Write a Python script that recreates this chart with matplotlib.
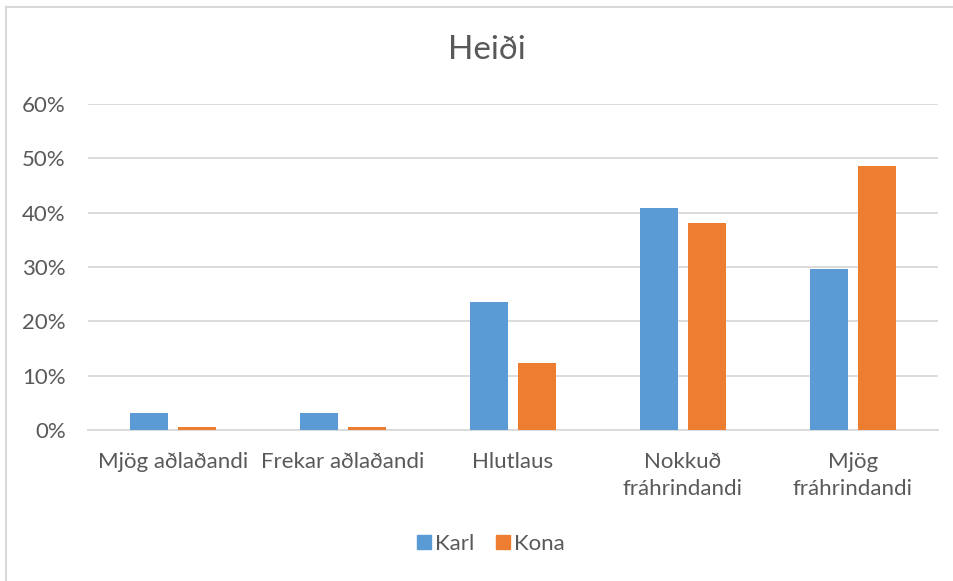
import numpy as np
import matplotlib
matplotlib.use("Agg")
import matplotlib.pyplot as plt
from matplotlib.lines import Line2D
from matplotlib.ticker import PercentFormatter

# Gögn lesin af myndinni
categories = ["Mjög aðlaðandi", "Frekar aðlaðandi", "Hlutlaus",
              "Nokkuð\nfráhrindandi", "Mjög\nfráhrindandi"]
karl = [0.031, 0.031, 0.235, 0.408, 0.296]
kona = [0.006, 0.006, 0.123, 0.381, 0.485]
series_names = ["Karl", "Kona"]
yticks = [0.0, 0.1, 0.2, 0.3, 0.4, 0.5, 0.6]

BLUE = "#5B9BD5"
ORANGE = "#ED7D31"
TEXT = "#595959"
GRID = "#D9D9D9"

plt.rcParams["font.family"] = ["Lato", "DejaVu Sans"]

W, H = 954, 581
fig = plt.figure(figsize=(W / 100, H / 100), dpi=100)
ax = fig.add_axes([88 / W, 1 - 430 / H, (938 - 88) / W, (430 - 104) / H])

x = np.arange(len(categories))
bw = 0.224
off = 0.143
ax.bar(x - off, karl, bw, color=BLUE, label=series_names[0], zorder=3)
ax.bar(x + off, kona, bw, color=ORANGE, label=series_names[1], zorder=3)

ax.set_xlim(-0.5, len(categories) - 0.5)
ax.set_ylim(0, 0.6)
ax.set_yticks(yticks)
ax.yaxis.set_major_formatter(PercentFormatter(1.0, decimals=0))
ax.set_xticks(x)
ax.set_xticklabels(categories, linespacing=1.4)
ax.tick_params(axis="both", length=0, labelsize=16, colors=TEXT)
ax.tick_params(axis="y", pad=16)
ax.tick_params(axis="x", pad=16)
ax.grid(axis="y", color=GRID, linewidth=1.3, zorder=0)
for s in ["top", "right", "left"]:
    ax.spines[s].set_visible(False)
ax.spines["bottom"].set_color(GRID)
ax.spines["bottom"].set_linewidth(1.3)

fig.text(487 / W, 1 - 50 / H, "Heiði", ha="center", va="center",
         fontsize=24, color=TEXT)

handles = [Line2D([], [], marker="s", linestyle="", markersize=10,
                  color=c) for c in (BLUE, ORANGE)]
fig.legend(handles, series_names, loc="center", ncol=2,
           bbox_to_anchor=(490 / W, 1 - 544 / H), frameon=False,
           fontsize=16, labelcolor=TEXT, handletextpad=0.1,
           columnspacing=0.9, handlelength=0.8)

# ramminn utan um myndina (bara vinstri og efri brún sjáanleg)
fig.add_artist(Line2D([6.5 / W, 6.5 / W], [0, 1 - 6.5 / H], color=GRID,
                      linewidth=1.5, transform=fig.transFigure))
fig.add_artist(Line2D([6.5 / W, 1], [1 - 6.5 / H, 1 - 6.5 / H], color=GRID,
                      linewidth=1.5, transform=fig.transFigure))

fig.savefig("out.png", dpi=100, facecolor="white")
